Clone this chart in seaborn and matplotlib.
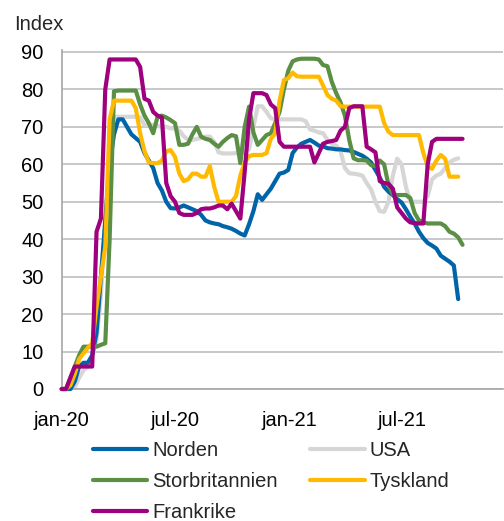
import pandas as pd
import matplotlib.pyplot as plt
import seaborn as sns

# weekly index values, first week starts 2020-01-01
norden = [0, 0, 0, 2, 6, 7, 7, 9, 15, 30,
          45, 60, 68, 72, 72, 70, 68, 67, 66, 63,
          61, 59, 55, 53, 50, 48.3, 48.2, 48.5, 49, 48.5,
          48, 47.5, 46.5, 45, 44.5, 44.2, 44, 43.5, 43.2, 42.8,
          42.2, 41.5, 41, 44, 47.5, 52, 50.5, 52, 53.5, 55.5,
          57.5, 57.8, 58.5, 63, 64.5, 65.5, 66, 66.5, 65.8, 65,
          64.8, 64.3, 64.2, 64, 64, 63.8, 63.7, 63.3, 62.8, 62.3,
          61.5, 60.5, 58.5, 56.5, 54, 52.7, 51.8, 50.7, 49.8, 48,
          46, 44.2, 42, 40.3, 39, 38.3, 37.5, 35.6, 34.8, 34,
          33, 24]
usa = [0, 0, 0, 0.5, 3, 5, 6, 9, 13, 25,
       45, 65, 72.7, 72.7, 72.7, 72.7, 72.7, 72.7, 72.5, 70.5,
       70.5, 70.5, 70.3, 70, 70, 69.6, 69.6, 69, 67.5, 66.5,
       66.5, 66.8, 67, 67.4, 67.4, 66, 63.2, 62.9, 62.9, 62.9,
       63, 63, 63, 64, 70, 75.5, 75.5, 74, 72.3, 72,
       72, 72, 72, 72, 72, 72, 71.5, 69.3, 69, 68.5,
       68.3, 66.5, 65.5, 65, 63.5, 59, 57.6, 57.5, 57.3, 57,
       55, 53.3, 50, 47.5, 47.3, 50, 57, 61.5, 60, 54,
       50, 50, 50, 50, 51.5, 56, 57, 57.5, 59, 60.5,
       61.2, 61.6]
storbritannien = [0, 0, 3, 6, 9, 11.3, 11.3, 11.3, 11.3, 11.8,
                  12.2, 40, 79.5, 79.7, 79.7, 79.7, 79.7, 79.7, 76, 73,
                  71, 68.3, 72.7, 73, 72.5, 71.8, 71, 65.2, 65.2, 65.5,
                  68, 70, 67.4, 66.8, 66.5, 65.5, 64.7, 66, 67, 67.8,
                  67.5, 60.3, 70, 75.4, 68.5, 65.2, 66.5, 67.8, 68.3, 71,
                  74, 80, 85, 87.5, 88, 88.2, 88.2, 88.2, 88.2, 88,
                  86.5, 86.2, 82, 79, 76.5, 73, 66.5, 61.6, 61.1, 61.1,
                  61, 59.8, 59.5, 61, 60, 54.5, 52, 51.8, 51.8, 51.8,
                  51, 47, 45, 44.5, 44.2, 44.2, 44.2, 44.2, 43.5, 42,
                  41.5, 40.5, 38.5]
tyskland = [0, 0, 1, 4, 8, 9.5, 11, 12.2, 22, 30,
            38, 72, 77, 77, 77, 77, 77, 75, 68.3, 63.5,
            60.5, 60.3, 60.3, 61, 63.5, 63.8, 62, 57.5, 55.5, 56,
            57.5, 57.5, 56.7, 56.7, 59.5, 54, 50, 50, 50, 50,
            51.5, 57, 60.5, 62.2, 62.5, 62.5, 62.5, 63, 66.8, 68.3,
            77, 82.5, 83, 84.5, 83.5, 83.4, 83.4, 83.4, 83.4, 83.4,
            81, 78.5, 77.5, 77, 75.5, 75.4, 75.4, 75.4, 75.4, 75.4,
            75.4, 75.4, 75.4, 75.4, 71, 68.7, 67.8, 67.8, 67.8, 67.8,
            67.8, 67.8, 67.8, 63, 59.5, 58.8, 61, 62.5, 61.5, 56.7,
            56.7, 56.7]
frankrike = [0, 0, 3, 6, 6, 6, 6, 6, 42, 45.5,
             80, 88, 88, 88, 88, 88, 88, 88, 86, 77.5,
             77, 74, 73, 72.5, 55, 51.5, 50, 47, 46.5, 46.5,
             46.5, 47, 48, 48.2, 48.2, 48.5, 49, 49, 48, 49.5,
             47.5, 45.5, 58, 72, 79, 79, 79, 78.5, 76, 75,
             66, 64.7, 64.7, 64.7, 64.7, 64.7, 64.7, 64.7, 60.5, 63,
             65.5, 66, 66.2, 66.5, 69, 70, 75, 75.5, 75.5, 75.5,
             64.7, 64, 63.2, 55.5, 55, 54.8, 53.5, 48.5, 47, 45.5,
             44.5, 44.3, 44.2, 44.2, 60, 66, 66.8, 66.8, 66.8, 66.8,
             66.8, 66.8, 66.8]

series_names = ["Norden", "USA", "Storbritannien", "Tyskland", "Frankrike"]
series_values = [norden, usa, storbritannien, tyskland, frankrike]
colors = ["#0064a8", "#d6d6d6", "#5a8f45", "#ffb900", "#9e007e"]
tick_dates = ["2020-01-01", "2020-07-01", "2021-01-01", "2021-07-01"]
tick_labels = ["jan-20", "jul-20", "jan-21", "jul-21"]

# --- long format for seaborn ---
weeks = pd.date_range("2020-01-01", periods=93, freq="7D")
frames = []
for name, vals in zip(series_names, series_values):
    frames.append(pd.DataFrame({"date": weeks[:len(vals)], "value": vals, "land": name}))
df = pd.concat(frames, ignore_index=True)

sns.set_style("white")
plt.rcParams["font.family"] = ["Liberation Sans", "DejaVu Sans"]
fs = 14.5

fig = plt.figure(figsize=(5.04, 5.21), dpi=100)
ax = fig.add_axes([61.7 / 504, 1 - 389 / 521, (503 - 61.7) / 504, (389 - 50.1) / 521])

sns.lineplot(data=df, x="date", y="value", hue="land", hue_order=series_names,
             palette=colors, linewidth=3, ax=ax)

# gray series sits behind the others
zorders = {"Norden": 3, "USA": 2, "Storbritannien": 4, "Tyskland": 5, "Frankrike": 6}
for line, name in zip(ax.lines, series_names):
    line.set_zorder(zorders[name])
    line.set_clip_on(False)
    line.set_solid_joinstyle("round")
    line.set_solid_capstyle("round")

ax.set_ylim(0, 90.5)
ax.set_yticks(range(0, 91, 10))
ax.set_xlim(pd.Timestamp("2020-01-01"), pd.Timestamp("2021-12-10"))
ax.set_xticks(pd.to_datetime(tick_dates))
ax.set_xticklabels(tick_labels)
ax.set_xlabel("")
ax.set_ylabel("")

ax.grid(axis="y", color="#c4c4c4", linewidth=1.3)
ax.set_axisbelow(True)
for side in ["top", "right"]:
    ax.spines[side].set_visible(False)
for side in ["left", "bottom"]:
    ax.spines[side].set_color("#a6a6a6")
    ax.spines[side].set_linewidth(1.2)
ax.tick_params(axis="both", length=0, labelsize=fs, colors="black")
ax.tick_params(axis="y", pad=13)
ax.tick_params(axis="x", pad=16)

fig.text(14 / 504, 1 - 24 / 521, "Index", fontsize=fs, ha="left", va="center")

handles, labels = ax.get_legend_handles_labels()
ax.get_legend().remove()
order = [0, 2, 4, 1, 3]
leg = fig.legend([handles[i] for i in order], [labels[i] for i in order],
                 ncol=2, loc="upper left", bbox_to_anchor=(93 / 504, 1 - 441 / 521),
                 frameon=False, borderpad=0, borderaxespad=0, handlelength=2.7,
                 handletextpad=0.25, columnspacing=1.6, labelspacing=0.6, fontsize=fs)
for h in leg.get_lines():
    h.set_linewidth(3)
    h.set_solid_capstyle("round")

fig.savefig("out.png", dpi=100)
